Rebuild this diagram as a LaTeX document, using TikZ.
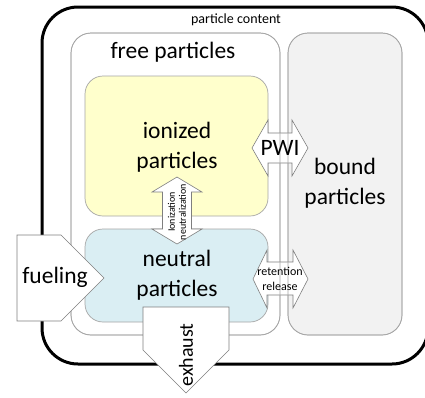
\documentclass[tikz,border=0pt]{standalone}
\usepackage{fontspec}
\setmainfont{Carlito}
\definecolor{ionfill}{HTML}{FFFFCC}
\definecolor{neutralfill}{HTML}{DAEEF3}
\definecolor{boundfill}{HTML}{F2F2F2}
\definecolor{boxline}{HTML}{A6A6A6}
\definecolor{arrowline}{HTML}{7F7F7F}
\tikzset{
  region/.style={draw=boxline, line width=0.7pt, inner sep=0pt},
  blockarrow/.style={draw=arrowline, fill=white, line width=0.6pt},
  biglabel/.style={font=\fontsize{23.5}{30}\selectfont, align=center, inner sep=0pt},
  smalllabel/.style={font=\fontsize{10}{11}\selectfont, align=center, inner sep=0pt},
}
\begin{document}
\begin{tikzpicture}[x=1pt, y=-1pt]
            \useasboundingbox (0,0) rectangle (425,397);

            \node[draw, line width=3pt, rounded corners=36pt, minimum width=386pt, minimum height=357pt] (content) at (235,185.5) {};
            \node[font=\fontsize{14}{16}\selectfont] (contentlabel) at (236,20) {particle content};

            \node[region, fill=white, rounded corners=20pt, minimum width=209pt, minimum height=302pt] (free) at (175.5,184) {};
            \node[region, fill=boundfill, rounded corners=20pt, minimum width=114pt, minimum height=302pt] (bound) at (345,184) {};
            \node[region, fill=ionfill, rounded corners=18pt, minimum width=183pt, minimum height=140pt] (ionized) at (176.5,146) {};
            \node[region, fill=neutralfill, rounded corners=18pt, minimum width=183pt, minimum height=93pt] (neutral) at (176.5,275.5) {};

            \draw[blockarrow] (177,177) -- (202,192) -- (191.5,192) -- (191.5,229) -- (202,229) -- (177,244)
                -- (152,229) -- (162.5,229) -- (162.5,192) -- (152,192) -- cycle;
            \draw[blockarrow] (252,148) -- (268,120) -- (268,133) -- (292,133) -- (292,120) -- (308,148)
                -- (292,176) -- (292,163) -- (268,163) -- (268,176) -- cycle;
            \draw[blockarrow] (253,279) -- (267,250) -- (267,262) -- (293,262) -- (293,250) -- (308,279)
                -- (293,308) -- (293,295) -- (267,295) -- (267,308) -- cycle;

            \node[region, rounded corners=20pt, minimum width=209pt, minimum height=302pt] at (free) {};
            \node[region, rounded corners=20pt, minimum width=114pt, minimum height=302pt] at (bound) {};

            \draw[blockarrow] (17,235) -- (61,235) -- (104,278) -- (61,321) -- (17,321) -- cycle;
            \draw[blockarrow] (143,307) -- (229,307) -- (229,350) -- (186,393) -- (143,350) -- cycle;

            \node[biglabel] (freelabel) at (173,52) {free particles};
            \node[biglabel] (ionlabel) at (177,147) {ionized\\particles};
            \node[biglabel] (boundlabel) at (345,183) {bound\\particles};
            \node[biglabel] (neutrallabel) at (177,275) {neutral\\particles};
            \node[biglabel] (pwi) at (280,148) {PWI};
            \node[smalllabel, rotate=90] (ionization) at (177,212) {Ionization\\neutralization};
            \node[font=\fontsize{12}{14.5}\selectfont, align=center, inner sep=0pt] (retention) at (280,279) {retention\\release};
            \node[biglabel] (fueling) at (55,277) {fueling};
            \node[biglabel, font=\fontsize{20}{24}\selectfont, rotate=90] (exhaust) at (186,355) {exhaust};
        \end{tikzpicture}
\end{document}
